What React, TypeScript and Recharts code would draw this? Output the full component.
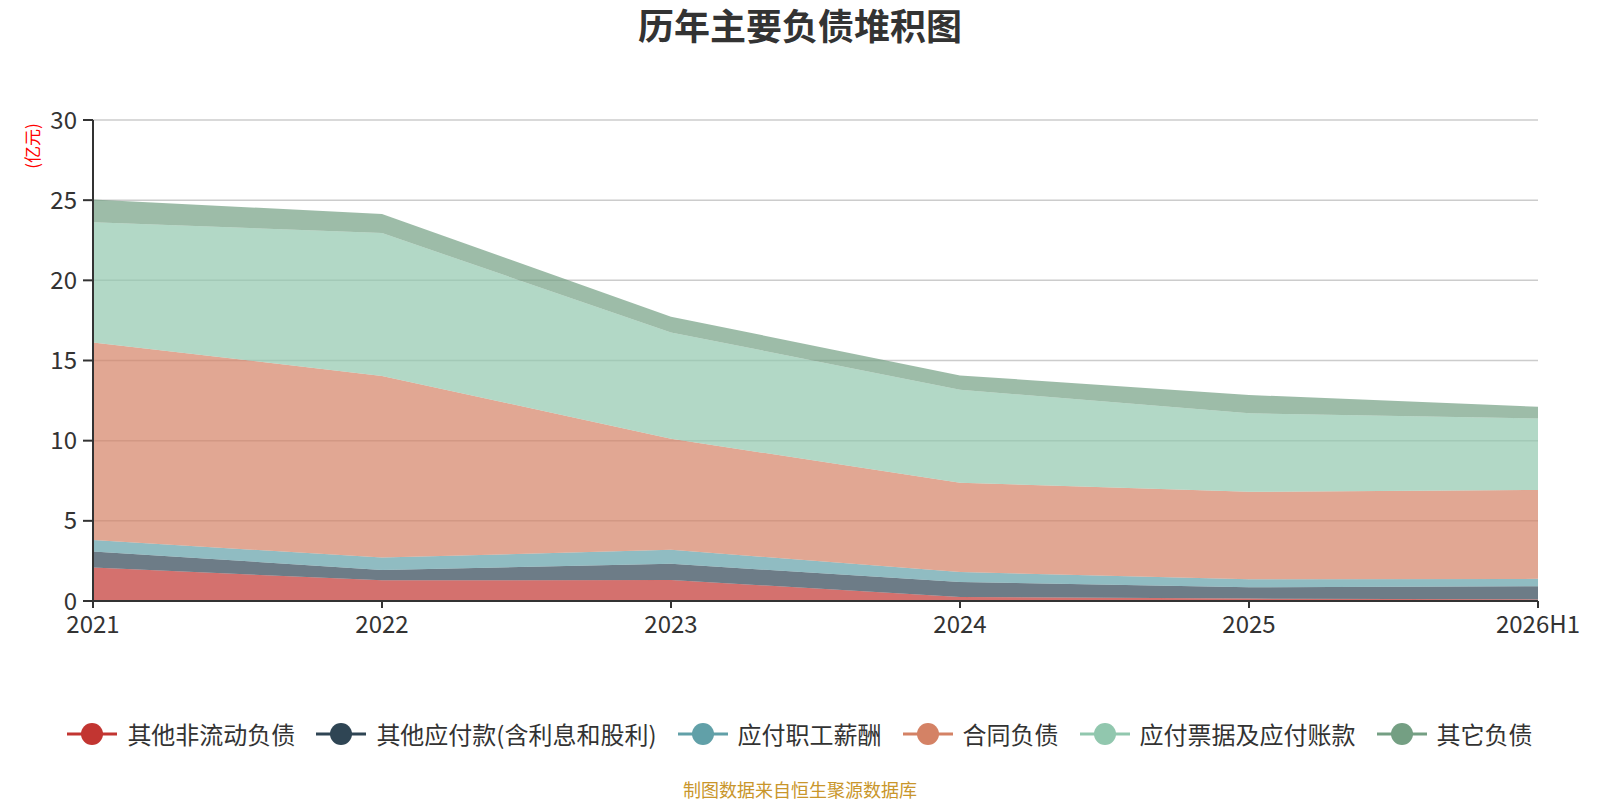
import { Area, AreaChart, CartesianGrid, XAxis, YAxis } from "recharts";

const FONT = '"Noto Sans CJK SC", "Noto Sans", sans-serif';

const years = ["2021", "2022", "2023", "2024", "2025", "2026H1"];
const otherNonCurrent = [2.09, 1.29, 1.31, 0.25, 0.15, 0.1];
const otherPayables = [1.0, 0.65, 1.01, 0.94, 0.7, 0.82];
const staffPay = [0.71, 0.77, 0.87, 0.62, 0.5, 0.46];
const contractLiab = [12.33, 11.33, 6.93, 5.57, 5.46, 5.55];
const notesPayable = [7.49, 8.91, 6.63, 5.8, 4.9, 4.45];
const otherLiab = [1.42, 1.19, 0.98, 0.89, 1.14, 0.73];
const yTicks = [0, 5, 10, 15, 20, 25, 30];

const SERIES = [
  { key: "a", name: "其他非流动负债", color: "#c23531", values: otherNonCurrent },
  { key: "b", name: "其他应付款(含利息和股利)", color: "#2f4554", values: otherPayables },
  { key: "c", name: "应付职工薪酬", color: "#61a0a8", values: staffPay },
  { key: "d", name: "合同负债", color: "#d48265", values: contractLiab },
  { key: "e", name: "应付票据及应付账款", color: "#91c7ae", values: notesPayable },
  { key: "f", name: "其它负债", color: "#749f83", values: otherLiab },
];

const data = years.map((year, i) => {
  const row: Record<string, string | number> = { year };
  SERIES.forEach((s) => {
    row[s.key] = s.values[i];
  });
  return row;
});

function LegendBar() {
  return (
    <div
      style={{
        position: "absolute",
        left: 0,
        top: 718,
        width: 1600,
        display: "flex",
        justifyContent: "center",
        fontFamily: FONT,
        fontSize: 24,
        color: "#333",
        lineHeight: "32px",
      }}
    >
      {SERIES.map((s, i) => (
        <div key={s.key} style={{ display: "flex", alignItems: "center", marginLeft: i === 0 ? 0 : 21 }}>
          <svg width={50} height={24} style={{ marginRight: 10 }}>
            <line x1={0} y1={12} x2={50} y2={12} stroke={s.color} strokeWidth={3} />
            <circle cx={25} cy={12} r={11} fill={s.color} />
          </svg>
          <span>{s.name}</span>
        </div>
      ))}
    </div>
  );
}

export default function App() {
  return (
    <div style={{ position: "absolute", left: 0, top: 0, width: 1600, height: 800, background: "#fff" }}>
      <div
        style={{
          position: "absolute",
          left: 0,
          top: 0,
          width: 1600,
          textAlign: "center",
          fontFamily: FONT,
          fontSize: 36,
          fontWeight: "bold",
          color: "#333",
          lineHeight: "48px",
        }}
      >
        历年主要负债堆积图
      </div>
      <div
        style={{
          position: "absolute",
          left: 31,
          top: 146,
          transform: "translate(-50%, -50%) rotate(-90deg)",
          fontFamily: FONT,
          fontSize: 17,
          color: "#ff0000",
          whiteSpace: "nowrap",
        }}
      >
        (亿元)
      </div>
      <AreaChart width={1600} height={800} data={data} margin={{ top: 120, right: 62, bottom: 159, left: 0 }}>
        <CartesianGrid vertical={false} stroke="#ccc" strokeWidth={1.5} />
        <XAxis
          dataKey="year"
          tick={{ fontSize: 24, fill: "#333", fontFamily: FONT }}
          tickSize={7}
          tickMargin={8}
          height={40}
          stroke="#333"
          strokeWidth={2}
          interval={0}
        />
        <YAxis
          width={93}
          domain={[0, 30]}
          ticks={yTicks}
          tick={{ fontSize: 24, fill: "#333", fontFamily: FONT }}
          tickSize={10}
          tickMargin={6}
          stroke="#333"
          strokeWidth={2}
          interval={0}
        />
        {SERIES.map((s) => (
          <Area
            key={s.key}
            type="linear"
            dataKey={s.key}
            name={s.name}
            stackId="1"
            stroke="none"
            fill={s.color}
            fillOpacity={0.7}
            dot={false}
            activeDot={false}
            isAnimationActive={false}
          />
        ))}
      </AreaChart>
      <LegendBar />
      <div
        style={{
          position: "absolute",
          left: 0,
          top: 776,
          width: 1600,
          textAlign: "center",
          fontFamily: FONT,
          fontSize: 18,
          color: "#c9962b",
          lineHeight: "26px",
        }}
      >
        制图数据来自恒生聚源数据库
      </div>
    </div>
  );
}
